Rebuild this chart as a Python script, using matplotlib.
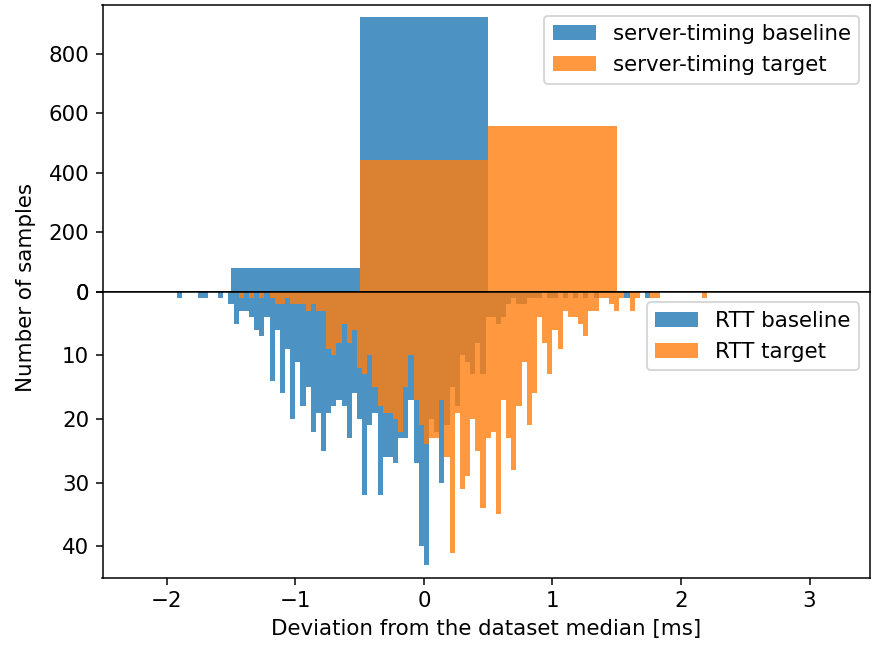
import numpy as np
import matplotlib.pyplot as plt

# server-timing histogram (1 ms bins)
st_edges = [-1.5, -0.5, 0.5, 1.5]
st_baseline = [80, 924, 0]
st_target = [0, 443, 557]

# RTT histogram (0.04 ms bins starting at -1.92)
rtt_start = -1.92
rtt_step = 0.04
rtt_baseline = [
    1, 0, 0, 0, 1, 1, 0, 0, 1, 0,
    2, 5, 3, 3, 4, 6, 7, 4, 14, 6,
    16, 9, 20, 11, 18, 15, 22, 19, 25, 19,
    18, 17, 18, 23, 16, 20, 32, 21, 19, 32,
    26, 26, 27, 23, 23, 17, 27, 40, 43, 20,
    22, 30, 21, 15, 18, 10, 11, 13, 8, 13,
    4, 4, 5, 4, 2, 1, 2, 2, 1, 1,
    1, 0, 1, 1, 0, 1, 0, 1, 0, 1,
    0, 1, 0, 0, 0, 0, 0, 1, 0, 0,
    0, 1, 0, 0, 0, 0, 0, 0, 0, 0,
    0, 0, 0, 0,
]
rtt_target = [
    0, 0, 0, 0, 0, 0, 0, 0, 0, 0,
    0, 0, 1, 0, 1, 0, 1, 0, 1, 2,
    2, 1, 2, 2, 2, 3, 2, 3, 3, 9,
    10, 8, 5, 8, 6, 12, 13, 10, 15, 18,
    19, 19, 20, 22, 15, 10, 17, 21, 24, 23,
    23, 17, 26, 41, 19, 31, 29, 20, 25, 34,
    23, 22, 35, 17, 23, 28, 18, 11, 21, 16,
    4, 8, 13, 6, 9, 3, 4, 4, 5, 7,
    3, 3, 1, 1, 2, 3, 1, 0, 3, 1,
    0, 0, 1, 1, 0, 0, 0, 0, 0, 0,
    0, 0, 1, 0,
]

rtt_edges = rtt_start + rtt_step * np.arange(len(rtt_baseline) + 1)

plt.rcParams["font.size"] = 11.3

W, H, DPI = 874, 646, 136.5
fig = plt.figure(figsize=(W / DPI, H / DPI), dpi=DPI)

left, right = 102.5 / W, 870 / W
mid = 1 - 291.7 / H
ax_top = fig.add_axes([left, mid, right - left, (1 - 5 / H) - mid])
ax_bot = fig.add_axes([left, 1 - 578 / H, right - left, mid - (1 - 578 / H)],
                      sharex=ax_top)

st_w = np.diff(st_edges)
ax_top.bar(st_edges[:-1], st_baseline, width=st_w, align="edge",
           color="C0", alpha=0.8, linewidth=0, label="server-timing baseline")
ax_top.bar(st_edges[:-1], st_target, width=st_w, align="edge",
           color="C1", alpha=0.8, linewidth=0, label="server-timing target")
ax_top.set_ylim(0, 965)
ax_top.set_yticks([0, 200, 400, 600, 800])
ax_top.tick_params(axis="x", bottom=False, labelbottom=False)
ax_top.legend(loc="upper right")

rtt_w = np.diff(rtt_edges)
ax_bot.bar(rtt_edges[:-1], rtt_baseline, width=rtt_w, align="edge",
           color="C0", alpha=0.8, linewidth=0, label="RTT baseline")
ax_bot.bar(rtt_edges[:-1], rtt_target, width=rtt_w, align="edge",
           color="C1", alpha=0.8, linewidth=0, label="RTT target")
ax_bot.set_ylim(45, 0)
ax_bot.set_yticks([0, 10, 20, 30, 40])
ax_bot.set_xlim(-2.5, 3.47)
ax_bot.set_xlabel("Deviation from the dataset median [ms]")
ax_bot.legend(loc="upper right")

ax_top.axhline(0, color="black", linewidth=1.0, alpha=0.6)

fig.text(26.5 / W, 1 - 288 / H, "Number of samples", rotation=90,
         ha="center", va="center")

fig.savefig("out.png", dpi=DPI)
